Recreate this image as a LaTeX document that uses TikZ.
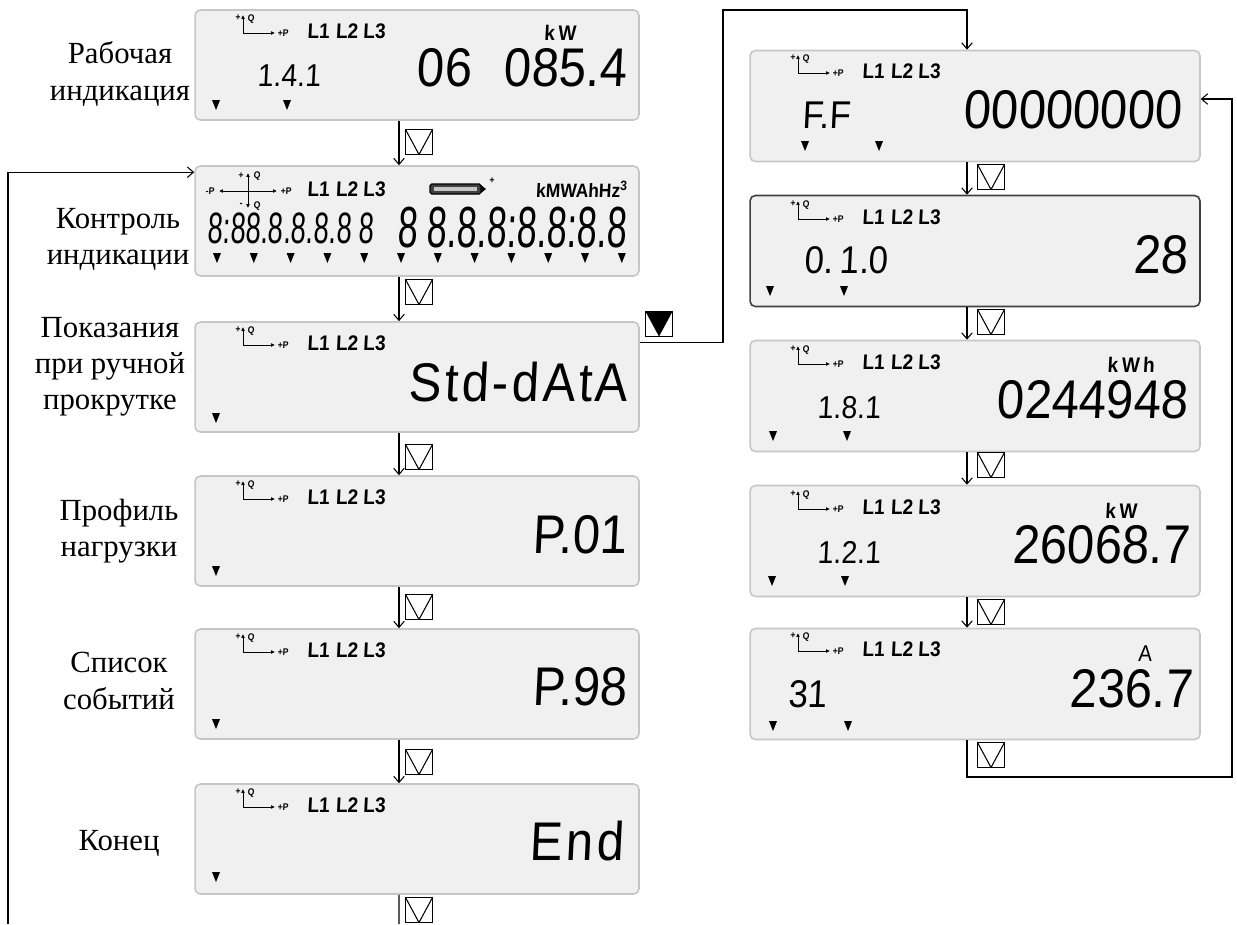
\documentclass[tikz,border=0pt]{standalone}
\usepackage{fontspec}
\setmainfont{Liberation Serif}
\newfontfamily\lcdfont[FakeStretch=0.9,FakeSlant=0.05]{Liberation Sans}
\newfontfamily\lcdnarrow[FakeStretch=0.62,FakeSlant=0.05]{Liberation Sans}
\usetikzlibrary{arrows.meta}

% head of a display: #1 name, #2 #3 north west corner
\newcommand{\lcdhead}[3]{%
  \draw[line width=0.5pt, -{Latex[length=2.2pt,width=2.2pt]}] (#2+48,#3+23) -- (#2+48,#3+5);
  \draw[line width=0.5pt, -{Latex[length=2.2pt,width=2.2pt]}] (#2+48,#3+23) -- (#2+80,#3+23);
  \node[signtxt] (#1qa) at (#2+43,#3+8) {+};
  \node[signtxt] (#1qb) at (#2+56,#3+9) {Q};
  \node[signtxt] (#1pp) at (#2+88,#3+23) {+P};
  \node[phasetxt] (#1ph) at (#2+112,#3+28) {L1\hspace{0.3em}L2 L3};
}
% cursor mark under a display
\newcommand{\lcdcur}[2]{\fill (#1-4,#2-5) -- (#1+4,#2-5) -- (#1,#2+5) -- cycle;}

\begin{document}
\begin{tikzpicture}[x=0.02cm, y=-0.02cm,
  label/.style={font=\fontsize{17.5}{20.6}\selectfont, align=center},
  lcd/.style={draw=gray!45, fill=gray!12, line width=0.9pt, rounded corners=3pt, minimum width=8.88cm, minimum height=2.2cm, inner sep=0pt},
  lcdr/.style={lcd, minimum width=9cm, minimum height=2.22cm},
  big/.style={font=\lcdfont\fontsize{31}{31}\selectfont, anchor=base east, inner sep=0pt, text height=22pt, text depth=0pt},
  code/.style={font=\lcdfont\fontsize{18}{18}\selectfont, anchor=base west, inner sep=0pt},
  codeb/.style={code, font=\lcdfont\fontsize{22}{22}\selectfont},
  unit/.style={font=\lcdfont\bfseries\fontsize{12}{12}\selectfont, inner sep=0pt, anchor=base, text depth=0pt},
  signtxt/.style={font=\lcdfont\bfseries\fontsize{5.5}{5.5}\selectfont, inner sep=0pt},
  phasetxt/.style={font=\lcdfont\bfseries\fontsize{12}{12}\selectfont, inner sep=0pt, anchor=base west},
  btn/.style={draw, fill=white, line width=0.6pt, minimum width=0.54cm, minimum height=0.5cm, inner sep=0pt,
    path picture={\draw[black, line width=0.6pt] (path picture bounding box.north west) -- (path picture bounding box.south) -- (path picture bounding box.north east);}},
  btnon/.style={btn, path picture={\fill[black] (path picture bounding box.north west) -- (path picture bounding box.south) -- (path picture bounding box.north east) -- cycle;}},
  line/.style={line width=0.6pt},
  flow/.style={line, -{Straight Barb[length=3.5pt,width=6pt]}}
]
\useasboundingbox (0,0) rectangle (1237,924);

% Left column
\node[lcd] (b1) at (417,65) {};
\node[lcd] (b2) at (417,221) {};
\node[lcd] (b3) at (417,377) {};
\node[lcd] (b4) at (417,531) {};
\node[lcd] (b5) at (417,684) {};
\node[lcd] (b6) at (417,839) {};

\node[label] (t1) at (120,74) {Рабочая\\индикация};
\node[label] (t2) at (118,239) {Контроль\\индикации};
\node[label] (t3) at (110,367) {Показания\\при ручной\\прокрутке};
\node[label] (t4) at (119,531) {Профиль\\нагрузки};
\node[label] (t5) at (119,681) {Список\\событий};
\node[label] (t6) at (119,843) {Конец};

% b1
\lcdhead{b1}{195}{10}
\node[unit] (b1u) at (560,40) {k\,W};
\node[big] (b1v) at (627,86) {06\hspace{0.6em}085.4};
\node[code] (b1c) at (257,86) {1.4.1};
\lcdcur{216}{105} \lcdcur{287}{105}

% b2, all segments
\draw[line width=0.5pt, {Latex[length=2.2pt,width=2.2pt]}-{Latex[length=2.2pt,width=2.2pt]}] (219,191) -- (277,191);
\draw[line width=0.5pt, {Latex[length=2.2pt,width=2.2pt]}-{Latex[length=2.2pt,width=2.2pt]}] (248,173) -- (248,208);
\node[signtxt] (b2pm) at (210,191) {-P};
\node[signtxt] (b2pp) at (286,191) {+P};
\node[signtxt] (b2qa) at (241,176) {+};
\node[signtxt] (b2qb) at (257,176) {Q};
\node[signtxt] (b2qc) at (241,205) {-};
\node[signtxt] (b2qd) at (257,206) {Q};
\node[phasetxt] (b2ph) at (307,196) {L1\hspace{0.3em}L2 L3};
\draw[line width=0.7pt, fill=black!75, rounded corners=1pt] (430,184) rectangle (481,194);
\fill[gray!45] (434,187) rectangle (477,191);
\fill (481,185) -- (486,189) -- (481,193) -- cycle;
\node[signtxt] (b2bp) at (492,181) {+};
\node[unit, anchor=base east, font=\lcdfont\bfseries\fontsize{11}{11}\selectfont] (b2u) at (628,197) {kMWAhHz\textsuperscript{3}};
\node[code, font=\lcdnarrow\fontsize{25}{25}\selectfont] (b2l) at (207,243) {8:88.8.8.8.8\,8};
\node[big, font=\lcdnarrow\fontsize{33}{33}\selectfont] (b2r) at (627,247) {8\,8.8.8:8.8:8.8};
\foreach \i in {0,...,11} \lcdcur{217+36.8*\i}{258};

% b3 ... b6
\lcdhead{b3}{195}{322}
\node[big] (b3v) at (628,401) {\addfontfeature{LetterSpace=6}Std-dAtA};
\lcdcur{216}{418}
\lcdhead{b4}{195}{476}
\node[big] (b4v) at (627,553) {P.01};
\lcdcur{216}{571}
\lcdhead{b5}{195}{629}
\node[big] (b5v) at (627,705) {P.98};
\lcdcur{216}{724}
\lcdhead{b6}{195}{784}
\node[big] (b6v) at (624,860) {\addfontfeature{LetterSpace=6}End};
\lcdcur{216}{877}

% Right column
\node[lcdr] (r1) at (975,106) {};
\node[lcdr, draw=black!75] (r2) at (975,251) {};
\node[lcdr] (r3) at (975,396) {};
\node[lcdr] (r4) at (975,541) {};
\node[lcdr] (r5) at (975,684) {};

\lcdhead{r1}{750}{50}
\node[codeb] (r1c) at (802,128) {F.F};
\node[big] (r1v) at (1182,128) {00000000};
\lcdcur{805}{146} \lcdcur{879}{146}

\lcdhead{r2}{750}{196}
\node[codeb] (r2c) at (804,273) {0.\,1.0};
\node[big] (r2v) at (1188,273) {28};
\lcdcur{770}{291} \lcdcur{844}{291}

\lcdhead{r3}{750}{341}
\node[unit] (r3u) at (1131,372) {k\,W\,h};
\node[big] (r3v) at (1188,418) {0244948};
\node[code] (r3c) at (817,418) {1.8.1};
\lcdcur{773}{436} \lcdcur{847}{436}

\lcdhead{r4}{750}{486}
\node[unit] (r4u) at (1121,518) {k\,W};
\node[big] (r4v) at (1190,563) {26068.7};
\node[code] (r4c) at (817,563) {1.2.1};
\lcdcur{772}{581} \lcdcur{845}{581}

\lcdhead{r5}{750}{628}
\node[unit, font=\lcdfont\fontsize{13}{13}\selectfont] (r5u) at (1145,661) {A};
\node[big] (r5v) at (1193,707) {236.7};
\node[codeb] (r5c) at (788,707) {31};
\lcdcur{773}{726} \lcdcur{848}{726}

% Steps
\foreach \a/\b in {b1/b2,b2/b3,b3/b4,b4/b5,b5/b6}
  \draw[flow] ([xshift=-0.36cm]\a.south) -- ([xshift=-0.36cm]\b.north);
\foreach \a/\b in {r1/r2,r2/r3,r3/r4,r4/r5}
  \draw[flow] ([xshift=-0.16cm]\a.south) -- ([xshift=-0.16cm]\b.north);
\foreach \y [count=\i] in {142,292,457,607,762,910}
  \node[btn] (kl\i) at (419,\y) {};
\foreach \y [count=\i] in {177,322,465,612,755}
  \node[btn] (kr\i) at (991,\y) {};

% Loops
\coordinate (loopbot) at (399,924);
\coordinate (loopleft) at (8,924);
\draw[line] ([xshift=-0.36cm]b6.south) -- (loopbot);
\draw[flow] (loopleft) |- ([yshift=-0.14cm]b2.north west);
\node[btnon] (kjump) at (659,324) {};
\coordinate (jumptop) at (723,10);
\draw[flow] ([yshift=-0.42cm]b3.north east) -| (jumptop) -| ([xshift=-0.16cm]r1.north);
\coordinate (loopright) at (1232,777);
\draw[flow] ([xshift=-0.16cm]r5.south) |- (loopright) |- ([yshift=0.14cm]r1.east);
\end{tikzpicture}
\end{document}
